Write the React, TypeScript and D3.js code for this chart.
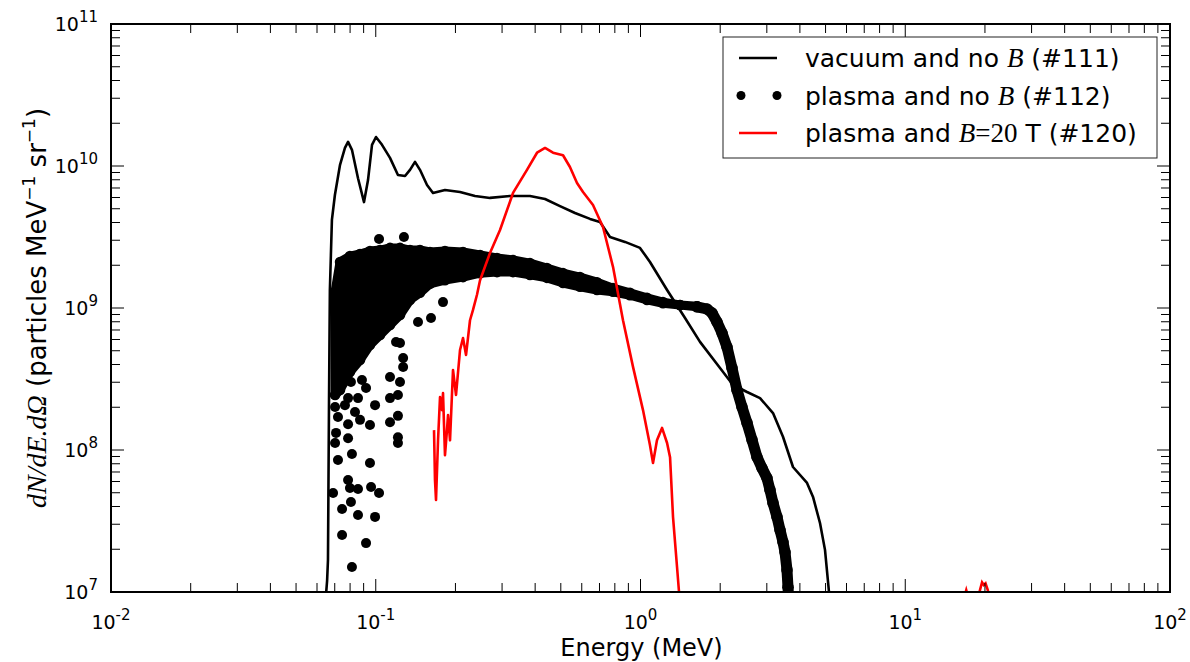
import React from "react";
import * as d3 from "d3";

// ---- data ----
// vacuum and no B (#111): [energy MeV, dN/dE.dΩ]
const vacuum: [number, number][] = [
  [0.0650, 1e7], [0.0655, 1.2e7], [0.0660, 1.68e7], [0.0666, 2.25e8], [0.0671, 1.34e9],
  [0.0683, 4.17e9], [0.0701, 6.25e9], [0.0733, 1.02e10], [0.0765, 1.34e10], [0.0786, 1.48e10],
  [0.0813, 1.30e10], [0.0857, 8.2e9], [0.0903, 5.57e9], [0.0935, 7.96e9], [0.0968, 1.41e10],
  [0.1002, 1.60e10], [0.1056, 1.41e10], [0.1132, 1.14e10], [0.1213, 8.65e9], [0.1290, 8.5e9],
  [0.1347, 9.4e9], [0.1407, 1.07e10], [0.1469, 9.4e9], [0.1562, 7.35e9], [0.1645, 6.46e9],
  [0.1826, 6.78e9], [0.2081, 6.56e9], [0.2371, 6.15e9], [0.2701, 5.96e9], [0.3214, 6.15e9],
  [0.3825, 6.15e9], [0.4359, 5.86e9], [0.4965, 5.22e9], [0.5657, 4.67e9], [0.6447, 4.24e9],
  [0.7031, 4.03e9], [0.7670, 3.16e9], [0.8738, 2.92e9], [0.9956, 2.65e9], [1.086, 2.11e9],
  [1.260, 1.34e9], [1.473, 8.5e8], [1.678, 5.77e8], [1.997, 3.78e8], [2.236, 2.87e8],
  [2.526, 2.56e8], [2.828, 2.32e8], [3.166, 1.82e8], [3.453, 1.24e8], [3.767, 7.59e7],
  [4.256, 5.86e7], [4.484, 4.67e7], [4.764, 3.06e7], [4.976, 1.98e7], [5.152, 1e7], [5.2, 8e6],
];

// plasma and no B (#112): dense band [energy, upper, lower]
const plasmaBand: [number, number, number][] = [
  [0.0702, 1.30e9, 2.44e8], [0.0733, 2.11e9, 2.65e8], [0.0799, 2.32e9, 3.54e8],
  [0.0872, 2.40e9, 4.30e8], [0.0951, 2.52e9, 5.49e8], [0.1038, 2.56e9, 6.45e8],
  [0.1132, 2.65e9, 7.59e8], [0.1235, 2.65e9, 8.93e8], [0.1347, 2.56e9, 1.14e9],
  [0.1469, 2.56e9, 1.28e9], [0.1603, 2.48e9, 1.48e9], [0.1826, 2.52e9, 1.57e9],
  [0.2136, 2.48e9, 1.65e9], [0.2477, 2.36e9, 1.76e9], [0.2871, 2.25e9, 1.79e9],
  [0.3300, 2.18e9, 1.79e9], [0.3825, 2.07e9, 1.71e9], [0.4433, 1.91e9, 1.63e9],
  [0.5097, 1.76e9, 1.50e9], [0.5908, 1.65e9, 1.41e9], [0.6850, 1.52e9, 1.34e9],
  [0.7873, 1.38e9, 1.30e9], [0.9127, 1.28e9, 1.23e9], [1.058, 1.18e9, 1.14e9],
  [1.216, 1.10e9, 1.08e9], [1.410, 1.05e9, 1.05e9], [1.635, 1.03e9, 1.02e9],
];

// plasma and no B (#112): steep high-energy fall-off
const plasmaTail: [number, number][] = [
  [1.635, 1.02e9], [1.783, 9.84e8], [1.863, 9.22e8], [1.945, 7.97e8], [2.032, 6.66e8],
  [2.122, 5.31e8], [2.216, 3.78e8], [2.314, 2.65e8], [2.417, 2.01e8], [2.526, 1.55e8],
  [2.637, 1.18e8], [2.754, 8.93e7], [2.876, 7.47e7], [3.004, 6.35e7], [3.084, 5.23e7],
  [3.166, 4.24e7], [3.278, 3.38e7], [3.365, 2.73e7], [3.453, 2.25e7], [3.514, 1.91e7],
  [3.575, 1.43e7], [3.607, 1.08e7], [3.62, 9.6e6],
];

// plasma and no B (#112): isolated points
const plasmaScatter: [number, number][] = [
  [0.1029, 3.06e9], [0.1278, 3.16e9], [0.1617, 8.5e8], [0.1444, 7.97e8], [0.1795, 1.10e9],
  [0.1269, 3.84e8], [0.1235, 3.01e8], [0.1213, 2.44e8], [0.0994, 2.07e8], [0.0887, 3.11e8],
  [0.1132, 3.27e8], [0.1235, 5.67e8], [0.1213, 1.74e8], [0.1132, 1.57e8], [0.1213, 1.23e8],
  [0.1213, 1.12e8], [0.0951, 1.50e8], [0.0872, 1.63e8], [0.0786, 1.52e8], [0.0720, 1.71e8],
  [0.0708, 1.32e8], [0.0702, 1.12e8], [0.0786, 1.21e8], [0.0835, 1.85e8], [0.0720, 8.5e7],
  [0.0813, 9.37e7], [0.0951, 8.1e7], [0.0786, 6.15e7], [0.0799, 5.4e7], [0.0857, 5.31e7],
  [0.0960, 5.49e7], [0.1029, 4.98e7], [0.0690, 4.98e7], [0.0746, 3.84e7], [0.0806, 4.3e7],
  [0.0857, 3.49e7], [0.0994, 3.38e7], [0.0746, 2.52e7], [0.0919, 2.21e7], [0.0813, 1.5e7],
  [0.0919, 2.73e8], [0.0806, 3.01e8], [0.0786, 2.32e8], [0.0857, 2.32e8], [0.1193, 5.76e8],
  [0.1269, 4.44e8], [0.1132, 2.32e8], [0.0702, 2.01e8], [0.0765, 2.07e8],
];

// plasma and B=20 T (#120)
const bfield: [number, number][] = [
  [0.1660, 1.38e8], [0.1674, 6.15e7], [0.1689, 4.45e7], [0.1719, 1.17e8],
  [0.1749, 2.36e8], [0.1779, 1.91e8], [0.1795, 2.52e8], [0.1826, 9.2e7], [0.1858, 1.38e8],
  [0.1875, 1.76e8], [0.1908, 1.17e8], [0.1958, 3.66e8], [0.2010, 2.44e8], [0.2081, 5.06e8],
  [0.2136, 6.15e8], [0.2193, 4.67e8], [0.2270, 8.2e8], [0.2330, 9.7e8], [0.2412, 1.24e9],
  [0.2477, 1.57e9], [0.2701, 2.44e9], [0.2947, 3.54e9], [0.3300, 6.46e9], [0.3726, 9.4e9],
  [0.4066, 1.24e10], [0.4359, 1.34e10], [0.4672, 1.24e10], [0.5097, 1.19e10], [0.5414, 9.84e9],
  [0.5757, 7.59e9], [0.6066, 6.56e9], [0.6616, 5.31e9], [0.7217, 3.72e9], [0.7873, 1.95e9],
  [0.8588, 8.2e8], [0.9370, 3.85e8], [1.022, 1.91e8], [1.086, 1.08e8], [1.115, 8.1e7],
  [1.154, 1.17e8], [1.206, 1.43e8], [1.260, 1.12e8], [1.293, 8.9e7], [1.327, 3.37e7],
  [1.374, 1.5e7], [1.398, 1e7], [1.40, 9e6],
];
const bfieldHigh1: [number, number][] = [[16.8, 9.5e6], [17.0, 1.03e7], [17.2, 9.5e6]];
const bfieldHigh2: [number, number][] = [
  [18.8, 9e6], [19.2, 1.05e7], [19.5, 1.17e7], [19.8, 1.12e7], [20.1, 1.15e7], [20.5, 1.03e7], [20.8, 9e6],
];

const xDomain: [number, number] = [0.01, 100];
const yDomain: [number, number] = [1e7, 1e11];
const xTickExps = [-2, -1, 0, 1, 2];
const yTickExps = [7, 8, 9, 10, 11];

const legendItems = ["vacuum", "plasma", "bfield"];

const L = 111, R = 1170, T = 24, B = 592;
const FONT = "'DejaVu Sans', sans-serif";
const MATH = "'Liberation Serif', 'DejaVu Serif', serif";

export default function App() {
  const x = d3.scaleLog().domain(xDomain).range([L, R]);
  const y = d3.scaleLog().domain(yDomain).range([B, T]);

  const line = d3.line<[number, number]>().x((d) => x(d[0])).y((d) => y(d[1]));
  const area = d3
    .area<[number, number, number]>()
    .x((d) => x(d[0]))
    .y0((d) => y(d[2]))
    .y1((d) => y(d[1]));

  const minorX: number[] = [];
  for (let e = -2; e < 2; e++) for (let k = 2; k <= 9; k++) minorX.push(k * Math.pow(10, e));
  const minorY: number[] = [];
  for (let e = 7; e < 11; e++) for (let k = 2; k <= 9; k++) minorY.push(k * Math.pow(10, e));

  const MAJ = 13, MIN = 9;

  return (
    <svg width={1190} height={662} style={{ display: "block", position: "absolute", left: 0, top: 0 }}>
      <rect x={0} y={0} width={1190} height={662} fill="#fff" />
      <defs>
        <clipPath id="plotclip">
          <rect x={L} y={T} width={R - L} height={B - T} />
        </clipPath>
      </defs>

      <g clipPath="url(#plotclip)">
        {/* #112 dense band */}
        <path d={area(plasmaBand) || ""} fill="#000" stroke="#000" strokeWidth={9} strokeLinejoin="round" />
        {plasmaBand.map((d, i) => (
          <g key={"b" + i}>
            <circle cx={x(d[0])} cy={y(d[1])} r={5.3} fill="#000" />
            <circle cx={x(d[0])} cy={y(d[2])} r={5.3} fill="#000" />
          </g>
        ))}
        <path d={line(plasmaTail) || ""} fill="none" stroke="#000" strokeWidth={11} strokeLinejoin="round" strokeLinecap="round" />
        {plasmaTail.map((d, i) => (
          <circle key={"t" + i} cx={x(d[0])} cy={y(d[1])} r={5.8} fill="#000" />
        ))}
        {plasmaScatter.map((d, i) => (
          <circle key={"s" + i} cx={x(d[0])} cy={y(d[1])} r={5} fill="#000" />
        ))}
        {/* #111 */}
        <path d={line(vacuum) || ""} fill="none" stroke="#000" strokeWidth={2.6} strokeLinejoin="round" />
        {/* #120 */}
        <path d={line(bfield) || ""} fill="none" stroke="#ff0000" strokeWidth={2.6} strokeLinejoin="round" />
        <path d={line(bfieldHigh1) || ""} fill="none" stroke="#ff0000" strokeWidth={2.6} />
        <path d={line(bfieldHigh2) || ""} fill="none" stroke="#ff0000" strokeWidth={2.6} />
      </g>

      {/* ticks */}
      <g stroke="#000" strokeWidth={1}>
        {xTickExps.map((e) => {
          const px = x(Math.pow(10, e));
          return (
            <g key={"xm" + e}>
              <line x1={px} x2={px} y1={B} y2={B - MAJ} />
              <line x1={px} x2={px} y1={T} y2={T + MAJ} />
            </g>
          );
        })}
        {minorX.map((v, i) => {
          const px = x(v);
          return (
            <g key={"xn" + i}>
              <line x1={px} x2={px} y1={B} y2={B - MIN} />
              <line x1={px} x2={px} y1={T} y2={T + MIN} />
            </g>
          );
        })}
        {yTickExps.map((e) => {
          const py = y(Math.pow(10, e));
          return (
            <g key={"ym" + e}>
              <line x1={L} x2={L + MAJ} y1={py} y2={py} />
              <line x1={R} x2={R - MAJ} y1={py} y2={py} />
            </g>
          );
        })}
        {minorY.map((v, i) => {
          const py = y(v);
          return (
            <g key={"yn" + i}>
              <line x1={L} x2={L + MIN} y1={py} y2={py} />
              <line x1={R} x2={R - MIN} y1={py} y2={py} />
            </g>
          );
        })}
      </g>

      {/* frame */}
      <rect x={L} y={T} width={R - L} height={B - T} fill="none" stroke="#000" strokeWidth={2} />

      {/* tick labels */}
      <g fontFamily={FONT} fill="#000">
        {xTickExps.map((e) => (
          <text key={"xl" + e} x={x(Math.pow(10, e))} y={629} textAnchor="middle" fontSize={19}>
            <tspan>10</tspan>
            <tspan fontSize={15} dy={-9}>{String(e)}</tspan>
          </text>
        ))}
        {yTickExps.map((e) => (
          <text key={"yl" + e} x={98} y={y(Math.pow(10, e)) + 7} textAnchor="end" fontSize={19}>
            <tspan>10</tspan>
            <tspan fontSize={15} dy={-9}>{String(e)}</tspan>
          </text>
        ))}
      </g>

      {/* axis labels */}
      <text x={(L + R) / 2 + 1} y={656} textAnchor="middle" fontFamily={FONT} fontSize={24}>
        Energy (MeV)
      </text>
      <text transform={`translate(46,${(T + B) / 2}) rotate(-90)`} textAnchor="middle" fontFamily={FONT} fontSize={26}>
        <tspan fontFamily={MATH} fontStyle="italic" fontSize={28}>dN/dE.dΩ</tspan>
        <tspan> (particles MeV</tspan>
        <tspan fontSize={17} dy={-11}>−1</tspan>
        <tspan dy={11}> sr</tspan>
        <tspan fontSize={17} dy={-11}>−1</tspan>
        <tspan dy={11}>)</tspan>
      </text>

      {/* legend */}
      <g>
        <rect x={723} y={37} width={434} height={121} fill="#fff" stroke="#222" strokeWidth={1} />
        {legendItems.map((k, i) => {
          const cy = 58 + i * 37.5;
          return (
            <g key={k}>
              {k === "vacuum" && <line x1={739} x2={777} y1={cy} y2={cy} stroke="#000" strokeWidth={2.6} />}
              {k === "plasma" && (
                <g>
                  <circle cx={741} cy={cy} r={4.5} fill="#000" />
                  <circle cx={777} cy={cy} r={4.5} fill="#000" />
                </g>
              )}
              {k === "bfield" && <line x1={739} x2={777} y1={cy} y2={cy} stroke="#ff0000" strokeWidth={2.6} />}
              <text x={805} y={cy + 9} fontFamily={FONT} fontSize={25}>
                {k === "vacuum" && (
                  <>
                    <tspan>vacuum and no </tspan>
                    <tspan fontFamily={MATH} fontStyle="italic" fontSize={27}>B</tspan>
                    <tspan> (#111)</tspan>
                  </>
                )}
                {k === "plasma" && (
                  <>
                    <tspan>plasma and no </tspan>
                    <tspan fontFamily={MATH} fontStyle="italic" fontSize={27}>B</tspan>
                    <tspan> (#112)</tspan>
                  </>
                )}
                {k === "bfield" && (
                  <>
                    <tspan>plasma and </tspan>
                    <tspan fontFamily={MATH} fontStyle="italic" fontSize={27}>B</tspan>
                    <tspan fontFamily={MATH} fontSize={27}>=20</tspan>
                    <tspan> T (#120)</tspan>
                  </>
                )}
              </text>
            </g>
          );
        })}
      </g>
    </svg>
  );
}
